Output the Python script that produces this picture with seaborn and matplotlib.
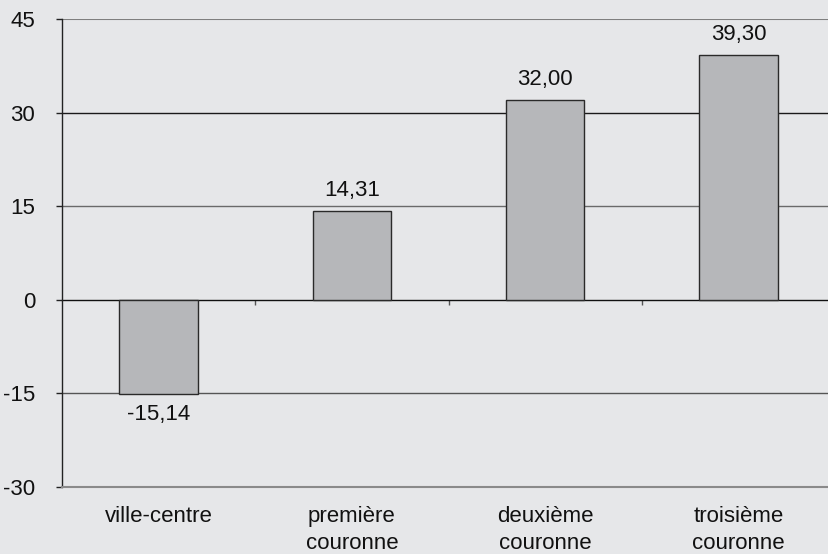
import matplotlib
matplotlib.use("Agg")
import matplotlib.pyplot as plt
import seaborn as sns
import numpy as np
import pandas as pd

categories = ["ville-centre", "première\ncouronne", "deuxième\ncouronne", "troisième\ncouronne"]
values = [-15.14, 14.31, 32.00, 39.30]
yticks = [-30, -15, 0, 15, 30, 45]

sns.set_theme(style="white")
plt.rcParams['font.family'] = ['Liberation Sans', 'DejaVu Sans']

bg = "#E6E7E9"
fig = plt.figure(figsize=(8.29, 5.54), dpi=100, facecolor=bg)
ax = fig.add_axes([62/829, 1 - 487/554, 773/829, (487-19)/554])
ax.set_facecolor(bg)

df = pd.DataFrame({"cat": categories, "val": values})
sns.barplot(data=df, x="cat", y="val", ax=ax, color="#B6B7BA", width=0.405,
            edgecolor="#2a2a2a", linewidth=1.0, saturation=1)

ymin, ymax = yticks[0], yticks[-1]
ax.set_ylim(ymin, ymax)
ax.set_xlim(-0.5, len(categories) - 0.5)
ax.set_yticks(yticks)
ax.set_yticklabels([str(t) for t in yticks], fontsize=16, color="#111111")
ax.set_xticks(range(len(categories)))
ax.set_xticklabels(categories, fontsize=16, color="#111111", linespacing=1.35)
ax.set_xlabel("")
ax.set_ylabel("")
ax.tick_params(axis="x", length=0, pad=14)
ax.tick_params(axis="y", length=4.3, width=1, color="#222222", pad=15, direction="out", left=True)

grid_styles = {45: ("#7f7f7f", 1.5), 30: ("#1a1a1a", 1.0), 15: ("#6a6a6a", 1.0), -15: ("#555555", 1.0)}
for t, (c, lw) in grid_styles.items():
    ax.axhline(t, color=c, lw=lw, zorder=0)

for s in ["top", "right"]:
    ax.spines[s].set_visible(False)
ax.spines["left"].set_color("#222222")
ax.spines["left"].set_linewidth(1)
ax.spines["bottom"].set_color("#8a8a8a")
ax.spines["bottom"].set_linewidth(1.5)

# zero axis with category-boundary ticks
sec = ax.secondary_xaxis((0 - ymin) / (ymax - ymin))
sec.set_xticks(np.arange(len(categories) - 1) + 0.5)
sec.set_xticklabels([])
sec.tick_params(length=3.6, width=1, color="#555555", direction="out")
sec.spines["bottom"].set_color("#111111")
sec.spines["bottom"].set_linewidth(1)

for i, v in enumerate(values):
    label = f"{v:.2f}".replace(".", ",")
    if v >= 0:
        ax.annotate(label, (i, v), xytext=(0, 7), textcoords="offset points",
                    ha="center", va="bottom", fontsize=16, color="#111111")
    else:
        ax.annotate(label, (i, v), xytext=(0, -7), textcoords="offset points",
                    ha="center", va="top", fontsize=16, color="#111111")

fig.savefig("out.png", dpi=100, facecolor=bg)
